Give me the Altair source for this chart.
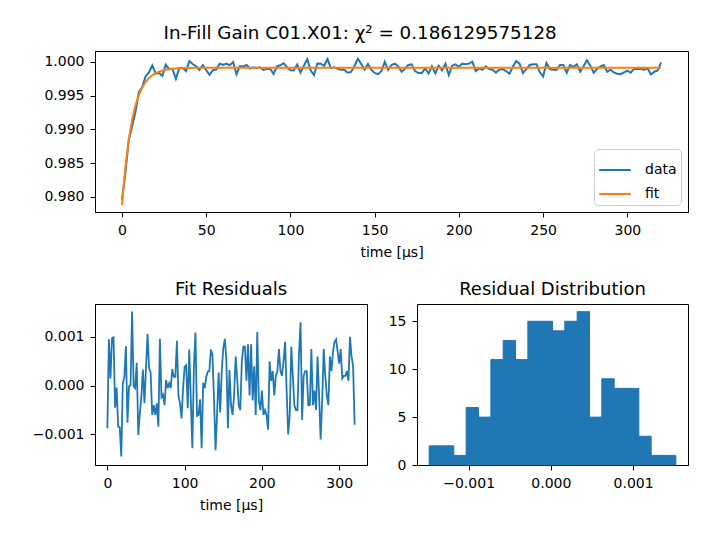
import altair as alt
import pandas as pd

# ---------------- data ----------------
time_us = list(range(0, 321, 2))  # 161 samples, 2 us apart

residuals = [
    # t = 0 .. 158
    -0.00087, 0.00095, 0.00015, 0.00097, 0.00099, -0.00045, -0.00004, -0.00084, -0.00085, -0.00145,
    0.00005, 0.00018, 0.00081, -0.00076, -0.00001, 0.00001, 0.00152, -0.00001, -0.00005, 0.00047,
    -0.00101, -0.00057, -0.00023, 0.00033, -0.00036, 0.00036, 0.00106, 0.00036, 0.00027, -0.00060,
    -0.00040, -0.00060, -0.00036, -0.00084, 0.00096, -0.00023, -0.00018, -0.00040, 0.00012, -0.00005,
    0.00005, -0.00005, 0.00034, 0.00018, 0.00018, 0.00092, -0.00021, -0.00036, -0.00067, -0.00005,
    0.00039, 0.00042, -0.00046, 0.00074, -0.00029, -0.00128, 0.00039, 0.00109, -0.00062, -0.00060,
    -0.00028, -0.00128, 0.00006, -0.00005, 0.00018, 0.00029, 0.00030, 0.00074, 0.00063, -0.00026,
    -0.00132, -0.00057, 0.00027, -0.00055, 0.00029, 0.00077, 0.00096, 0.00053, -0.00087, 0.00032,
    # t = 160 .. 320
    -0.0004, -0.0006, -0.0002, 0.0006, 0.00015, -0.0004, -0.0005, 0.0005, 0.0008, 0.0008,
    0.0001, 0.00085, -0.0002, 0.00085, -0.0003, 0.0004, -0.0006, 0.0011, -0.0003, -0.0005,
    -0.0001, -0.0006, -0.0005, -0.0006, -0.0009, 0.0005, 0.0001, 0.0003, -0.0002, 0.0002,
    0.0003, 0.00075, 0.0003, 0.0002, 0.0005, 0.0009, -0.0001, -0.001, -0.0006, 0.0008,
    0.0002, -0.0004, -0.0005, -0.0005, 0.00065, 0.0013, -0.0007, 0.0002, 0.0003, 0.0003,
    -0.0004, -0.0004, 0.00075, -0.0004, -0.0001, -0.0005, 0.0006, -0.0002, -0.0011, -0.0003,
    0.00075, 0.0002, -0.0002, -0.0004, 0.0006, 0.0003, 0.0007, 0.0009, 0.00095, 0.0007,
    0.00045, 0.00075, 0.00015, 0.0002, 0.0002, 0.0003, 0.0001, 0.001, 0.0006, 0.0004,
    -0.0008,
]

fit_values = [
    # transient, t = 0 .. 44
    0.97875, 0.98437, 0.98845, 0.99140, 0.99354, 0.99508, 0.99620, 0.99702, 0.99761, 0.99803,
    0.99834, 0.99856, 0.99873, 0.99884, 0.99893, 0.99899, 0.99903, 0.99906, 0.99909, 0.99911,
    0.99912, 0.99913, 0.99914,
    # plateau, t = 46 .. 320
    0.99915, 0.99915, 0.99915, 0.99915, 0.99915, 0.99915, 0.99915, 0.99915, 0.99915, 0.99915,
    0.99915, 0.99915, 0.99915, 0.99915, 0.99915, 0.99915, 0.99915, 0.99915, 0.99915, 0.99915,
    0.99915, 0.99915, 0.99915, 0.99915, 0.99915, 0.99915, 0.99915, 0.99915, 0.99915, 0.99915,
    0.99915, 0.99915, 0.99915, 0.99915, 0.99915, 0.99915, 0.99915, 0.99915, 0.99915, 0.99915,
    0.99915, 0.99915, 0.99915, 0.99915, 0.99915, 0.99915, 0.99915, 0.99915, 0.99915, 0.99915,
    0.99915, 0.99915, 0.99915, 0.99915, 0.99915, 0.99915, 0.99915, 0.99915, 0.99915, 0.99915,
    0.99915, 0.99915, 0.99915, 0.99915, 0.99915, 0.99915, 0.99915, 0.99915, 0.99915, 0.99915,
    0.99915, 0.99915, 0.99915, 0.99915, 0.99915, 0.99915, 0.99915, 0.99915, 0.99915, 0.99915,
    0.99915, 0.99915, 0.99915, 0.99915, 0.99915, 0.99915, 0.99915, 0.99915, 0.99915, 0.99915,
    0.99915, 0.99915, 0.99915, 0.99915, 0.99915, 0.99915, 0.99915, 0.99915, 0.99915, 0.99915,
    0.99915, 0.99915, 0.99915, 0.99915, 0.99915, 0.99915, 0.99915, 0.99915, 0.99915, 0.99915,
    0.99915, 0.99915, 0.99915, 0.99915, 0.99915, 0.99915, 0.99915, 0.99915, 0.99915, 0.99915,
    0.99915, 0.99915, 0.99915, 0.99915, 0.99915, 0.99915, 0.99915, 0.99915, 0.99915, 0.99915,
    0.99915, 0.99915, 0.99915, 0.99915, 0.99915, 0.99915, 0.99915, 0.99915,
]

hist_edges = [
    -0.00148, -0.00133, -0.00118, -0.00103, -0.00088, -0.00073, -0.00058, -0.00043,
    -0.00028, -0.00013, 0.00002, 0.00017, 0.00032, 0.00047, 0.00062, 0.00077,
    0.00092, 0.00107, 0.00122, 0.00137, 0.00152,
]
hist_counts = [2, 2, 1, 6, 5, 11, 13, 11, 15, 15, 14, 15, 16, 5, 9, 8, 8, 3, 1, 1]

series_names = ["data", "fit"]
series_colors = ["#1f77b4", "#ff7f0e"]

title_text = "In-Fill Gain C01.X01: χ² = 0.186129575128"
time_title = "time [μs]"

# ---------------- tables ----------------
n = min(len(time_us), len(residuals), len(fit_values))
t = time_us[:n]
fit = fit_values[:n]
res = residuals[:n]
data_values = [f - r for f, r in zip(fit, res)]
top_df = pd.DataFrame({
    "time": t + t,
    "value": data_values + fit,
    "series": ["data"] * n + ["fit"] * n,
})
res_df = pd.DataFrame({"time": t, "residual": res})
hist_df = pd.DataFrame({
    "left": hist_edges[:-1],
    "right": hist_edges[1:],
    "count": hist_counts,
})

FONT = "DejaVu Sans"

top = alt.Chart(top_df).mark_line(strokeWidth=2).encode(
    x=alt.X("time:Q", title=time_title,
            scale=alt.Scale(domain=[-16, 336], nice=False, zero=False),
            axis=alt.Axis(values=[0, 50, 100, 150, 200, 250, 300])),
    y=alt.Y("value:Q", title=None,
            scale=alt.Scale(domain=[0.97773, 1.00163], nice=False, zero=False),
            axis=alt.Axis(values=[0.980, 0.985, 0.990, 0.995, 1.000], format=".3f")),
    color=alt.Color("series:N",
                    scale=alt.Scale(domain=series_names, range=series_colors),
                    legend=alt.Legend(title=None, orient="bottom-right", offset=7,
                                      symbolType="stroke", symbolSize=1000,
                                      symbolStrokeWidth=2, labelFontSize=14,
                                      labelFont=FONT, labelColor="black",
                                      fillColor="white", strokeColor="#cccccc",
                                      cornerRadius=4, padding=4, rowPadding=0,
                                      labelOffset=13)),
).properties(width=593, height=161)

resid = alt.Chart(res_df).mark_line(strokeWidth=1.8, color="#1f77b4").encode(
    x=alt.X("time:Q", title=time_title,
            scale=alt.Scale(domain=[-16, 336], nice=False, zero=False),
            axis=alt.Axis(values=[0, 100, 200, 300])),
    y=alt.Y("residual:Q", title=None,
            scale=alt.Scale(domain=[-0.001625, 0.001674], nice=False, zero=False),
            axis=alt.Axis(values=[-0.001, 0.0, 0.001], format=".3f")),
).properties(width=272, height=161, title="Fit Residuals")

hist = alt.Chart(hist_df).mark_rect(color="#1f77b4", stroke="#1f77b4",
                                    strokeWidth=1).encode(
    x=alt.X("left:Q", title=None,
            scale=alt.Scale(domain=[-0.001628, 0.001668], nice=False, zero=False),
            axis=alt.Axis(values=[-0.001, 0.0, 0.001], format=".3f")),
    x2="right:Q",
    y=alt.Y("count:Q", title=None,
            scale=alt.Scale(domain=[0, 16.8], nice=False),
            axis=alt.Axis(values=[0, 5, 10, 15])),
    y2=alt.datum(0),
).properties(width=271, height=161, title="Residual Distribution")

bottom = alt.hconcat(resid, hist, spacing=50, bounds="flush")

chart = alt.vconcat(top, bottom, spacing=92, bounds="flush").resolve_legend(
    color="independent"
).resolve_scale(
    color="independent"
).properties(
    title=alt.Title(title_text, fontSize=18.3, font=FONT, fontWeight="normal",
                    color="black", offset=7, anchor="middle"),
    padding={"left": 23, "top": 16, "right": 10, "bottom": 10},
    background="white",
).configure_axis(
    labelFont=FONT, labelFontSize=14, labelColor="black",
    titleFont=FONT, titleFontSize=14, titleFontWeight="normal", titleColor="black",
    tickColor="black", domainColor="black", tickSize=5, labelPadding=6,
    grid=False, titlePadding=8,
).configure_view(
    stroke="black", strokeWidth=1,
).configure_title(
    font=FONT, fontSize=18, fontWeight="normal", color="black", offset=5,
)

chart.save("out.html", embed_options={"renderer": "svg", "actions": False})
